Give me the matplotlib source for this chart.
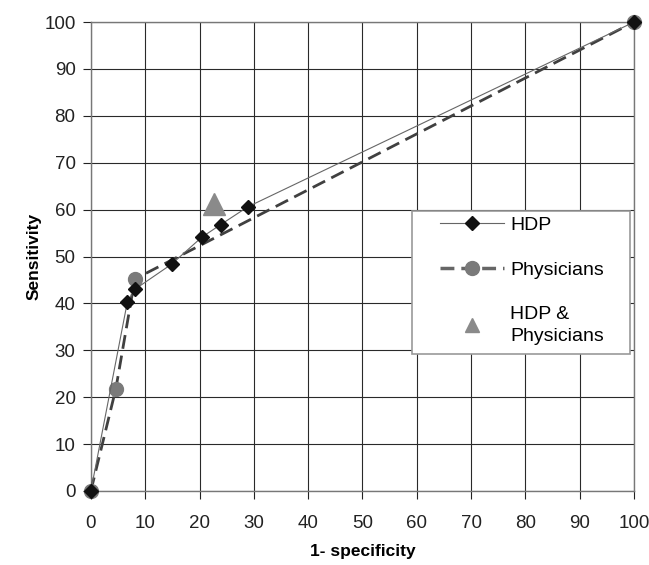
import matplotlib
matplotlib.use("Agg")
import matplotlib.pyplot as plt
from matplotlib.lines import Line2D
from matplotlib.patches import Rectangle

plt.rcParams['font.family'] = ['Liberation Sans', 'DejaVu Sans']

hdp_x = [0, 6.7, 8.1, 14.9, 20.4, 23.9, 28.9, 100]
hdp_y = [0, 40.2, 43.0, 48.4, 54.1, 56.8, 60.6, 100]
phys_x = [0, 4.6, 8.1, 100]
phys_y = [0, 21.8, 45.2, 100]
combo_x = [22.6]
combo_y = [61.2]
ticks = list(range(0, 101, 10))
series_names = ['HDP', 'Physicians', 'HDP &\nPhysicians']

fig = plt.figure(figsize=(6.49, 5.65), dpi=100)
ax = fig.add_axes([0.140, 0.131, 0.837, 0.830])

ax.plot(phys_x, phys_y, color='#404040', lw=2.0, ls=(0, (5, 2.5)),
        marker='o', markersize=10, markerfacecolor='#7a7a7a', markeredgecolor='#7a7a7a',
        zorder=3, clip_on=False)
ax.plot(hdp_x, hdp_y, color='#666666', lw=0.8, marker='D', markersize=7,
        markerfacecolor='#111111', markeredgecolor='#111111', zorder=4, clip_on=False)
ax.plot(combo_x, combo_y, ls='none', marker='^', markersize=16,
        color='#8a8a8a', zorder=5, clip_on=False)

ax.set_xlim(0, 100)
ax.set_ylim(0, 100)
ax.set_xticks(ticks)
ax.set_yticks(ticks)
ax.grid(True, color='#2a2a2a', lw=0.8)
ax.set_axisbelow(True)
for s in ax.spines.values():
    s.set_color('#777777')
    s.set_linewidth(1.0)
ax.tick_params(axis='both', labelsize=13.5, colors='#222222', length=6, width=0.8)
ax.tick_params(axis='y', pad=5)
ax.tick_params(axis='x', pad=11)
ax.set_xlabel('1- specificity', fontsize=12.5, fontweight='bold', labelpad=9)
ax.set_ylabel('Sensitivity', fontsize=12.5, fontweight='bold', labelpad=2)

# legend box
box = Rectangle((0.591, 0.292), 0.401, 0.305, transform=ax.transAxes,
                facecolor='white', edgecolor='#999999', lw=1.2, zorder=6)
ax.add_patch(box)
handles = [
    Line2D([], [], color='#666666', lw=0.8, marker='D', markersize=7,
           markerfacecolor='#111111', markeredgecolor='#111111'),
    Line2D([], [], color='#666666', lw=2.5, ls=(0, (4, 2)), marker='o', markersize=10,
           markerfacecolor='#7a7a7a', markeredgecolor='#7a7a7a'),
    Line2D([], [], ls='none', marker='^', markersize=10, color='#8a8a8a'),
]
leg = ax.legend(handles, series_names, loc='upper left',
                bbox_to_anchor=(0.643, 0.585), fontsize=14,
                frameon=False, handlelength=3.3, labelspacing=1.4,
                borderpad=0, handletextpad=0.3, borderaxespad=0)
leg.set_zorder(7)
leg.get_texts()[2].set_linespacing(1.35)

fig.savefig('out.png', dpi=100)
